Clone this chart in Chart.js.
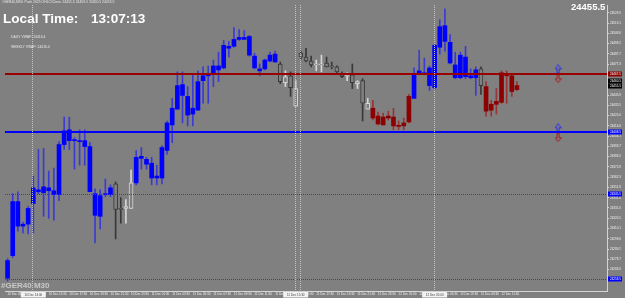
<!DOCTYPE html>
<html>
<head>
<meta charset="utf-8">
<title>#GER40 M30</title>
<script src="https://cdn.jsdelivr.net/npm/chart.js@4.4.1/dist/chart.umd.min.js"></script>
<style>
  html, body { margin: 0; padding: 0; background: #808080; overflow: hidden; }
  #wrap { position: relative; width: 625px; height: 298px; }
  #chartCanvas { position: absolute; left: 0; top: 0; }
  .txt { position: absolute; white-space: nowrap; font-family: "Liberation Sans", Arial, sans-serif; line-height: 1; }
</style>
</head>
<body>
<div id="wrap">
  <canvas id="chartCanvas" width="625" height="298"></canvas>
  <div class="txt" style="left:2px; top:1px; font-size:3.4px; color:#e6e6e6;">#GER40,M30: Push 2025 OHLC/Close: 24451.5 24459.5 24450.5 24455.5</div>
  <div class="txt" style="left:3px; top:12px; font-size:13.6px; font-weight:bold; color:#ffffff;">Local Time:</div>
  <div class="txt" style="left:91px; top:12px; font-size:13.6px; font-weight:bold; color:#ffffff;">13:07:13</div>
  <div class="txt" style="left:11px; top:36px; font-size:3.4px; color:#e6e6e6;">DAILY VWAP: 24416.4</div>
  <div class="txt" style="left:11px; top:46px; font-size:3.4px; color:#e6e6e6;">WEEKLY VWAP: 24416.4</div>
  <div class="txt" id="bidText" style="left:571px; top:2px; font-size:9.5px; font-weight:bold; color:#ffffff;"></div>
  <div class="txt" style="left:1px; top:282px; font-size:8px; font-weight:bold; color:#c8c8c8;">#GER40 M30</div>
</div>
<script>
// M30 candles, oldest first
const open = [
  24259.5, 24282.5, 24337.5, 24312.5, 24314.5, 24335.5, 24349.5, 24346.5, 24351.5, 24348.5,
  24344.5, 24395.5, 24410.5, 24399.5, 24399.5, 24399.5, 24393.5, 24345.5, 24322.5, 24344.5,
  24344.5, 24355.5, 24330.5, 24330.5, 24330.5, 24356.5, 24381.5, 24380.5, 24376.5, 24361.5,
  24361.5, 24389.5, 24415.5, 24431.5, 24456.5, 24444.5, 24426.5, 24430.5, 24460.5, 24465.5,
  24468.5, 24475.5, 24473.5, 24495.5, 24495.5, 24502.5, 24502.5, 24505.5, 24485.5, 24472.5,
  24472.5, 24480.5, 24487.5, 24477.5, 24458.5, 24465.5, 24434.5, 24488.5, 24484.5, 24480.5,
  24476.5, 24476.5, 24478.5, 24475.5, 24474.5, 24466.5, 24465.0, 24466.5, 24457.5, 24460.5,
  24431.5, 24432.5, 24424.5, 24423.5, 24422.5, 24423.5, 24414.5, 24414.5, 24418.5, 24442.5,
  24468.5, 24468.5, 24473.5, 24453.5, 24494.5, 24516.5, 24499.5, 24476.5, 24463.5, 24484.5,
  24465.5, 24463.5, 24472.5, 24454.5, 24430.5, 24436.5, 24438.5, 24467.5, 24465.5, 24451.5
];
const high = [
  24279.5, 24345.5, 24347.5, 24316.5, 24332.5, 24363.5, 24390.5, 24391.5, 24368.5, 24371.5,
  24398.5, 24423.5, 24423.5, 24402.5, 24410.5, 24410.5, 24397.5, 24350.5, 24349.5, 24360.5,
  24354.5, 24357.5, 24341.5, 24339.5, 24369.5, 24389.5, 24392.5, 24382.5, 24382.5, 24374.5,
  24394.5, 24419.5, 24442.5, 24469.5, 24469.5, 24454.5, 24467.5, 24470.5, 24474.5, 24475.5,
  24481.5, 24489.5, 24501.5, 24500.5, 24514.5, 24512.5, 24511.5, 24506.5, 24488.5, 24477.5,
  24482.5, 24489.5, 24490.5, 24479.5, 24470.5, 24469.5, 24460.5, 24490.5, 24493.5, 24485.5,
  24481.5, 24486.5, 24484.5, 24479.5, 24475.5, 24469.5, 24468.5, 24477.5, 24460.5, 24462.5,
  24442.5, 24440.5, 24428.5, 24427.5, 24429.5, 24432.5, 24419.5, 24422.5, 24446.5, 24473.5,
  24491.5, 24483.5, 24475.5, 24497.5, 24522.5, 24533.5, 24507.5, 24489.5, 24489.5, 24495.5,
  24472.5, 24474.5, 24474.5, 24459.5, 24440.5, 24452.5, 24470.5, 24470.5, 24467.5, 24459.5
];
const low = [
  24256.5, 24280.5, 24307.5, 24305.5, 24304.5, 24305.5, 24345.5, 24322.5, 24320.5, 24318.5,
  24338.5, 24390.5, 24390.5, 24370.5, 24374.5, 24374.5, 24347.5, 24295.5, 24309.5, 24342.5,
  24342.5, 24299.5, 24315.5, 24315.5, 24330.5, 24354.5, 24370.5, 24370.5, 24354.5, 24354.5,
  24355.5, 24385.5, 24397.5, 24431.5, 24417.5, 24414.5, 24414.5, 24430.5, 24437.5, 24437.5,
  24454.5, 24459.5, 24472.5, 24484.5, 24494.5, 24501.5, 24502.5, 24485.5, 24472.5, 24465.5,
  24471.5, 24479.5, 24479.5, 24457.5, 24454.5, 24444.5, 24434.5, 24482.5, 24479.5, 24474.5,
  24470.5, 24469.5, 24474.5, 24472.5, 24467.5, 24463.5, 24460.5, 24452.5, 24452.5, 24419.5,
  24431.5, 24420.5, 24415.5, 24415.5, 24420.5, 24410.5, 24410.5, 24410.5, 24417.5, 24442.5,
  24466.5, 24466.5, 24450.5, 24451.5, 24487.5, 24490.5, 24477.5, 24462.5, 24462.5, 24462.5,
  24462.5, 24445.5, 24446.5, 24424.5, 24424.5, 24426.5, 24437.5, 24437.5, 24444.5, 24450.5
];
const close = [
  24277.5, 24337.5, 24312.5, 24314.5, 24330.5, 24351.5, 24347.5, 24352.5, 24348.5, 24344.5,
  24395.5, 24409.5, 24399.5, 24400.5, 24398.5, 24393.5, 24347.5, 24323.5, 24343.5, 24345.5,
  24351.5, 24329.5, 24329.5, 24332.5, 24356.5, 24382.5, 24383.5, 24375.5, 24361.5, 24363.5,
  24392.5, 24417.5, 24432.5, 24455.5, 24445.5, 24425.5, 24432.5, 24459.5, 24465.5, 24466.5,
  24475.5, 24471.5, 24496.5, 24493.5, 24502.5, 24504.5, 24504.5, 24486.5, 24473.5, 24470.5,
  24481.5, 24486.5, 24479.5, 24459.5, 24464.5, 24453.5, 24452.5, 24484.5, 24480.5, 24476.5,
  24477.5, 24477.5, 24474.5, 24474.5, 24469.5, 24464.5, 24465.5, 24458.5, 24459.5, 24437.5,
  24437.5, 24422.5, 24416.5, 24415.5, 24424.5, 24414.5, 24414.0, 24417.5, 24444.5, 24467.5,
  24470.5, 24467.5, 24455.5, 24496.5, 24515.5, 24500.5, 24478.5, 24463.5, 24486.5, 24464.5,
  24463.5, 24471.5, 24455.5, 24429.5, 24436.5, 24439.5, 24468.5, 24465.5, 24449.5, 24455.5
];
// indicator colouring of the candles: b = blue, g = grey (hollow), r = dark red
const regimeRuns = [['b', 21], ['g', 4], ['b', 28], ['g', 18], ['r', 8], ['b', 13], ['g', 1], ['r', 7]];

// x axis labels, one every 4 bars
const xTickLabels = [
  '10 Dec 2025', '10 Dec 13:30', '10 Dec 15:30', '10 Dec 17:30', '10 Dec 19:30', '10 Dec 21:30', '10 Dec 23:30',
  '11 Dec 01:30', '11 Dec 03:30', '11 Dec 05:30', '11 Dec 07:30', '11 Dec 09:30', '11 Dec 11:30', '11 Dec 13:30',
  '11 Dec 15:30', '11 Dec 17:30', '11 Dec 19:30', '11 Dec 21:30', '11 Dec 23:30', '12 Dec 01:30', '12 Dec 03:30',
  '12 Dec 05:30', '12 Dec 07:30', '12 Dec 09:30', '12 Dec 11:30'
];
const yTicks = [
  24529.5, 24519.1, 24508.6, 24498.2, 24487.7, 24477.3, 24466.8, 24456.4, 24445.9, 24435.5,
  24425.0, 24414.6, 24404.1, 24393.7, 24383.2, 24372.8, 24362.3, 24351.9, 24341.4, 24331.0,
  24320.5, 24310.1, 24299.6, 24289.2, 24278.7, 24268.3, 24257.8
];
const priceTop = 24537.5;
const priceBottom = 24246.5;
const slotCount = 117;   // bars that fit in the window (incl. empty right margin)

// chart objects
const levelPrices = [24467.5, 24408.5, 24345.5, 24258.5];   // red VWAP, blue VWAP, two dotted
const axisBoxPrices = [24467.5, 24460.5, 24455.5, 24408.5, 24345.5, 24258.5];
const vLineSlots = [5, 56, 57, 83];
const vLineLabels = ['10 Dec 14:00', '11 Dec 15:30', '', '12 Dec 05:00'];
const arrowSlot = 107;
const upArrowPrices = [24472.5, 24412.5];
const downArrowPrices = [24462.5, 24402.5];

const N = open.length;
const slots = Array.from({ length: slotCount }, (_, i) => i);
const regime = [];
regimeRuns.forEach(([k, n]) => { for (let j = 0; j < n; j++) regime.push(k); });

const BG = '#808080';
function bodyFill(i) {
  if (regime[i] === 'b') return '#0000ff';
  if (regime[i] === 'r') return '#8b0000';
  return BG;
}
function bodyEdge(i) {
  if (regime[i] === 'g') return close[i] >= open[i] ? '#d6d6d6' : '#383838';
  return bodyFill(i);
}
function wickColor(i) {
  if (regime[i] === 'b') return '#3b3bd4';
  if (regime[i] === 'r') return '#983434';
  return bodyEdge(i);
}

function arrowImg(color, up) {
  const c = document.createElement('canvas');
  c.width = 7; c.height = 9;
  const g = c.getContext('2d');
  g.strokeStyle = color; g.lineWidth = 1;
  const pts = [[3.5, 0.5], [6.5, 4.5], [4.5, 4.5], [4.5, 8.5], [2.5, 8.5], [2.5, 4.5], [0.5, 4.5]];
  g.beginPath();
  pts.forEach(([px, py], k) => {
    const yy = up ? py : 9 - py;
    if (k) g.lineTo(px, yy); else g.moveTo(px, yy);
  });
  g.closePath(); g.stroke();
  return c;
}

document.getElementById('bidText').textContent = close[N - 1].toFixed(1);

Chart.defaults.font.family = '"Liberation Sans", Arial, sans-serif';

const mtObjects = {
  id: 'mtObjects',
  afterDatasetsDraw(chart) {
    const { ctx, chartArea: a, scales: { x, y } } = chart;
    ctx.save();
    ctx.beginPath(); ctx.rect(a.left, a.top, a.right - a.left, a.bottom - a.top); ctx.clip();

    // horizontal levels
    const lvlColor = ['#990000', '#0000ff', '#3535e6', '#3535e6'];
    const lvlWidth = [2, 2, 1, 1];
    levelPrices.forEach((p, k) => {
      let py = Math.round(y.getPixelForValue(p));
      if (lvlWidth[k] === 1) py += 0.5;
      ctx.strokeStyle = lvlColor[k];
      ctx.lineWidth = lvlWidth[k];
      ctx.setLineDash(lvlWidth[k] === 1 ? [1, 1] : []);
      ctx.beginPath(); ctx.moveTo(a.left, py); ctx.lineTo(a.right, py); ctx.stroke();
    });

    // vertical dotted lines
    ctx.strokeStyle = '#c4c4c4'; ctx.lineWidth = 1; ctx.setLineDash([1, 1]);
    vLineSlots.forEach(s => {
      const px = Math.round(x.getPixelForValue(s)) - 0.5;
      ctx.beginPath(); ctx.moveTo(px, a.top); ctx.lineTo(px, a.bottom); ctx.stroke();
    });
    ctx.restore();
  },
  afterDraw(chart) {
    const { ctx, chartArea: a, scales: { x, y } } = chart;
    ctx.save();
    ctx.font = '3px "Liberation Sans", Arial, sans-serif';
    ctx.textBaseline = 'middle';
    // price boxes on the right axis
    const boxFill = ['#8b0000', '#000000', '#000000', '#0000ff', '#0000ff', '#0000ff'];
    axisBoxPrices.forEach((p, k) => {
      const py = Math.round(y.getPixelForValue(p));
      ctx.fillStyle = boxFill[k];
      ctx.fillRect(a.right + 1, py - 2.5, 14, 5);
      ctx.fillStyle = '#ffffff';
      ctx.textAlign = 'left';
      ctx.fillText(p.toFixed(1), a.right + 3, py);
    });
    // time boxes under the vertical lines
    vLineSlots.forEach((s, k) => {
      if (!vLineLabels[k]) return;
      const px = x.getPixelForValue(s);
      ctx.fillStyle = '#f2f2f2';
      ctx.fillRect(px - 12.5, a.bottom + 1, 25, 5.5);
      ctx.fillStyle = '#404040';
      ctx.textAlign = 'center';
      ctx.fillText(vLineLabels[k], px, a.bottom + 4);
    });
    ctx.restore();
  }
};

const ctx = document.getElementById('chartCanvas').getContext('2d');
const chart = new Chart(ctx, {
  type: 'bar',
  data: {
    labels: slots,
    datasets: [
      {
        label: 'body',
        data: open.map((o, i) => [Math.min(o, close[i]), Math.max(o, close[i])]),
        backgroundColor: open.map((o, i) => bodyFill(i)),
        borderColor: open.map((o, i) => bodyEdge(i)),
        borderWidth: open.map((o, i) => regime[i] === 'g' ? 1 : 0),
        borderSkipped: false,
        barThickness: 4,
        minBarLength: 1,
        grouped: false,
        order: 1
      },
      {
        label: 'wick',
        data: low.map((l, i) => [l, high[i]]),
        backgroundColor: low.map((l, i) => wickColor(i)),
        borderWidth: 0,
        barThickness: 1,
        grouped: false,
        order: 2
      },
      {
        type: 'line',
        label: 'buy arrows',
        data: upArrowPrices.map(p => ({ x: arrowSlot, y: p })),
        showLine: false,
        pointStyle: arrowImg('#2a2aff', true),
        pointRadius: 4,
        order: 0
      },
      {
        type: 'line',
        label: 'sell arrows',
        data: downArrowPrices.map(p => ({ x: arrowSlot, y: p })),
        showLine: false,
        pointStyle: arrowImg('#b01818', false),
        pointRadius: 4,
        order: 0
      }
    ]
  },
  options: {
    responsive: false,
    animation: false,
    events: [],
    layout: { padding: 0 },
    plugins: { legend: { display: false }, tooltip: { enabled: false } },
    scales: {
      x: {
        type: 'category',
        offset: true,
        grid: { display: false, drawTicks: false, tickLength: 0 },
        border: { display: true, color: '#d4d4d4' },
        ticks: {
          autoSkip: false, maxRotation: 0, minRotation: 0, align: 'start', padding: 1.5,
          color: '#f0f0f0', font: { size: 3 },
          callback: (v, i) => (i % 4 === 0 && i < N) ? xTickLabels[i / 4] : ''
        },
        afterFit(s) { s.height = 7; s.paddingLeft = 0; s.paddingRight = 0; }
      },
      y: {
        position: 'right',
        min: priceBottom,
        max: priceTop,
        afterBuildTicks(s) { s.ticks = yTicks.map(v => ({ value: v })); },
        grid: { display: true, drawOnChartArea: false, tickLength: 2, color: '#d4d4d4' },
        border: { display: true, color: '#d4d4d4' },
        ticks: { color: '#f0f0f0', padding: 1, font: { size: 3 }, callback: v => v.toFixed(1) },
        afterFit(s) { s.width = 18; s.paddingTop = 0; s.paddingBottom = 0; }
      }
    }
  },
  plugins: [mtObjects]
});
</script>
</body>
</html>
